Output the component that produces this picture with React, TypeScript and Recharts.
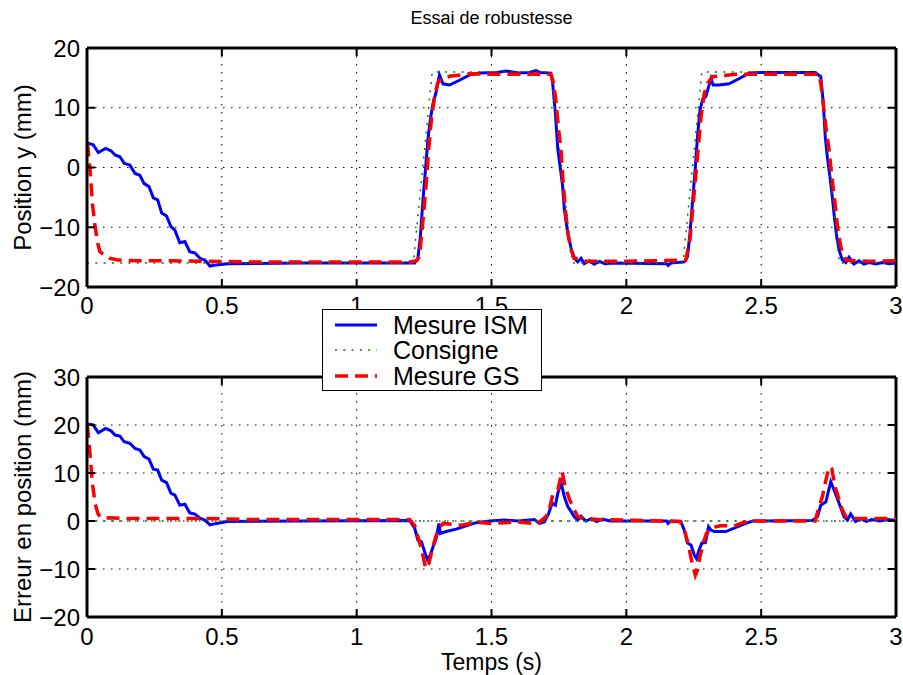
import { LineChart, Line, XAxis, YAxis, CartesianGrid, ReferenceLine, Legend, Label } from 'recharts';

// --- tick values ---
const xTicks = [0, 0.5, 1, 1.5, 2, 2.5, 3];
const posTicks = [-20, -10, 0, 10, 20];
const errTicks = [-20, -10, 0, 10, 20, 30];

// --- position plot (top) ---
const ismPosT = [0, 0.023, 0.042, 0.069, 0.089, 0.104, 0.122, 0.138, 0.159, 0.178, 0.196, 0.212, 0.23, 0.246, 0.262, 0.277, 0.295, 0.311, 0.326, 0.344, 0.363, 0.381, 0.4, 0.419, 0.437, 0.456, 0.48, 0.52, 0.8, 1.1, 1.215, 1.227, 1.236, 1.246, 1.256, 1.264, 1.273, 1.283, 1.295, 1.307, 1.32, 1.344, 1.381, 1.419, 1.456, 1.52, 1.555, 1.6, 1.64, 1.666, 1.68, 1.72, 1.727, 1.737, 1.746, 1.752, 1.764, 1.77, 1.783, 1.795, 1.807, 1.82, 1.832, 1.844, 1.863, 1.881, 1.9, 1.92, 1.95, 2.15, 2.155, 2.165, 2.215, 2.227, 2.236, 2.246, 2.256, 2.264, 2.273, 2.283, 2.295, 2.305, 2.314, 2.322, 2.344, 2.381, 2.419, 2.456, 2.493, 2.7, 2.721, 2.73, 2.738, 2.746, 2.755, 2.764, 2.772, 2.78, 2.789, 2.801, 2.814, 2.826, 2.844, 2.863, 2.881, 2.9, 2.925, 2.95, 2.975, 3.0];
const ismPos = [4.1, 3.8, 2.5, 3.2, 2.8, 2.1, 1.8, 0.7, 0.4, -1.0, -1.3, -2.7, -3.2, -5.1, -5.4, -7.6, -8.1, -9.9, -10.5, -12.6, -12.4, -14.1, -14.3, -15.2, -15.5, -16.5, -16.3, -16.1, -16.0, -16.0, -16.0, -15.2, -11.6, -5.4, 0.1, 4.6, 8.0, 10.7, 12.7, 15.5, 14.0, 13.8, 14.6, 15.5, 15.8, 15.9, 16.15, 15.8, 15.9, 16.2, 15.9, 15.8, 14.0, 9.0, 3.0, 1.0, -3.2, -7.0, -11.0, -13.5, -15.2, -15.8, -15.2, -16.1, -15.6, -16.2, -15.7, -16.1, -16.0, -16.1, -16.4, -16.0, -15.8, -14.9, -11.0, -5.4, 0.1, 5.2, 9.6, 11.4, 11.9, 13.5, 14.9, 13.8, 13.8, 14.0, 14.9, 15.8, 15.9, 15.9, 15.2, 11.0, 5.0, 1.5, -1.5, -5.0, -8.5, -11.5, -13.8, -15.5, -15.9, -15.0, -16.15, -15.6, -16.15, -15.9, -16.15, -15.9, -16.1, -16.0];

const refPosT = [0, 1.21, 1.28, 1.72, 1.8, 2.21, 2.28, 2.715, 2.79, 3];
const refPos = [-16, -16, 16, 16, -16, -16, 16, 16, -16, -16];

const gsPosT = [0, 0.002, 0.011, 0.02, 0.03, 0.04, 0.048, 0.06, 0.085, 0.116, 0.18, 0.3, 0.45, 0.6, 0.9, 1.2, 1.222, 1.233, 1.246, 1.258, 1.268, 1.277, 1.289, 1.3, 1.314, 1.35, 1.42, 1.5, 1.72, 1.728, 1.737, 1.749, 1.758, 1.764, 1.774, 1.783, 1.795, 1.807, 1.832, 1.85, 2.0, 2.22, 2.236, 2.246, 2.256, 2.268, 2.277, 2.289, 2.301, 2.32, 2.344, 2.406, 2.715, 2.721, 2.73, 2.74, 2.752, 2.762, 2.774, 2.783, 2.795, 2.801, 2.814, 2.85, 2.9, 3.0];
const gsPos = [4.0, 3.8, -0.1, -6.0, -9.9, -12.7, -14.1, -14.5, -15.2, -15.5, -15.6, -15.6, -15.7, -15.8, -15.8, -15.8, -15.6, -14.9, -8.8, -2.6, 3.5, 8.0, 11.9, 14.1, 14.9, 15.3, 15.7, 15.6, 15.6, 14.5, 11.9, 6.3, 2.9, -1.5, -7.1, -11.0, -13.8, -15.2, -15.3, -15.7, -15.7, -15.5, -12.1, -7.1, -2.1, 4.0, 8.5, 12.4, 14.1, 15.2, 15.3, 15.6, 15.6, 14.1, 10.7, 6.8, 2.9, -1.5, -6.0, -9.9, -13.2, -14.1, -15.5, -15.6, -15.7, -15.6];

// --- error plot (bottom) ---
const ismErrT = [0, 0.023, 0.042, 0.069, 0.089, 0.104, 0.122, 0.138, 0.159, 0.178, 0.196, 0.212, 0.23, 0.246, 0.262, 0.277, 0.295, 0.311, 0.326, 0.344, 0.363, 0.381, 0.4, 0.419, 0.437, 0.456, 0.48, 0.52, 0.8, 1.196, 1.215, 1.227, 1.24, 1.252, 1.262, 1.273, 1.283, 1.295, 1.305, 1.31, 1.332, 1.369, 1.406, 1.443, 1.493, 1.548, 1.6, 1.659, 1.678, 1.696, 1.712, 1.725, 1.737, 1.746, 1.758, 1.77, 1.783, 1.795, 1.807, 1.82, 1.832, 1.85, 1.87, 1.89, 1.91, 1.94, 2.15, 2.155, 2.165, 2.202, 2.215, 2.227, 2.24, 2.252, 2.26, 2.27, 2.28, 2.293, 2.305, 2.314, 2.326, 2.369, 2.443, 2.468, 2.69, 2.709, 2.721, 2.74, 2.758, 2.77, 2.789, 2.807, 2.82, 2.832, 2.85, 2.87, 2.89, 2.91, 2.94, 2.97, 3.0];
const ismErr = [20.2, 20.0, 18.4, 19.3, 18.8, 17.9, 17.7, 16.5, 16.2, 15.1, 14.8, 13.4, 12.9, 10.8, 10.6, 8.5, 8.0, 5.8, 5.4, 3.3, 3.5, 1.7, 1.45, 0.6, 0.2, -0.8, -0.5, -0.1, 0.0, 0.1, -1.5, -4.0, -4.3, -6.4, -8.0, -7.1, -5.4, -3.6, -0.5, -2.6, -2.2, -1.7, -1.0, -0.35, 0.0, 0.2, 0.0, 0.3, -0.5, -0.2, 1.6, 3.7, 3.3, 5.8, 8.0, 5.1, 3.0, 2.0, 0.9, 0.2, 1.0, 0.0, 0.5, -0.1, 0.4, 0.0, 0.0, -0.5, 0.0, -0.1, -1.9, -4.6, -5.0, -7.1, -7.8, -6.0, -4.6, -4.5, -1.2, -1.9, -2.2, -2.2, -0.5, 0.0, 0.1, 0.9, 3.3, 4.0, 8.2, 6.5, 3.7, 0.9, 0.2, 1.45, -0.1, 0.5, -0.1, 0.3, 0.0, 0.3, 0.1];

const refErrT = [0, 3];
const refErr = [0, 0];

const gsErrT = [0, 0.002, 0.011, 0.02, 0.03, 0.04, 0.048, 0.06, 0.085, 0.15, 0.45, 0.6, 1.196, 1.215, 1.227, 1.24, 1.249, 1.256, 1.268, 1.28, 1.293, 1.305, 1.32, 1.39, 1.44, 1.5, 1.6, 1.67, 1.702, 1.715, 1.727, 1.746, 1.754, 1.762, 1.773, 1.79, 1.805, 1.82, 1.84, 1.9, 2.2, 2.219, 2.23, 2.243, 2.256, 2.264, 2.273, 2.285, 2.297, 2.32, 2.35, 2.4, 2.45, 2.7, 2.715, 2.727, 2.74, 2.752, 2.762, 2.774, 2.789, 2.8, 2.814, 2.85, 3.0];
const gsErr = [20.0, 19.5, 14.1, 7.9, 3.7, 1.6, 0.9, 0.6, 0.7, 0.5, 0.5, 0.3, 0.3, -0.9, -3.3, -5.7, -8.1, -9.9, -8.8, -6.0, -3.3, -1.6, -0.5, -0.9, -0.3, -0.5, -0.2, -0.6, 0.9, 2.6, 5.4, 6.5, 8.5, 10.3, 7.2, 4.4, 2.6, 0.9, 0.5, 0.3, -0.1, -2.6, -5.0, -8.5, -11.3, -10.2, -7.4, -4.6, -2.6, -1.3, -1.0, -1.0, 0.0, 0.0, 3.0, 5.1, 8.5, 11.3, 10.9, 7.2, 4.4, 2.5, 0.9, 0.5, 0.5];

const seriesNames = ['Mesure ISM', 'Consigne', 'Mesure GS'];

const toRows = (t: number[], v: number[]) => t.map((x, i) => ({ t: x, v: v[i] }));

const FONT = '"Liberation Sans", Arial, Helvetica, sans-serif';
const FS = 24;
const PLOT_W = 809;
const BLUE = '#0000ff';
const GREEN = '#008000';
const RED = '#ff0000';

const fmt = (v: number) => (v < 0 ? '\u2212' + Math.abs(v) : String(v));

const makeXTick = (plotH: number, dy: number) => (props: any) => {
  const { x, y, payload } = props;
  return (
    <g>
      <line x1={x} x2={x} y1={y} y2={y - 8} stroke="#000" strokeWidth={2} />
      <line x1={x} x2={x} y1={y - plotH} y2={y - plotH + 8} stroke="#000" strokeWidth={2} />
      <text x={x} y={y + dy} textAnchor="middle" fontSize={FS} fontFamily={FONT} fill="#000">
        {fmt(payload.value)}
      </text>
    </g>
  );
};

const YTick = (props: any) => {
  const { x, y, payload } = props;
  return (
    <g>
      <line x1={x} x2={x + 8} y1={y} y2={y} stroke="#000" strokeWidth={2} />
      <line x1={x + PLOT_W - 8} x2={x + PLOT_W} y1={y} y2={y} stroke="#000" strokeWidth={2} />
      <text x={x - 7} y={y + 8.5} textAnchor="end" fontSize={FS} fontFamily={FONT} fill="#000">
        {fmt(payload.value)}
      </text>
    </g>
  );
};

const LegendBox = () => (
  <svg width={220} height={82} style={{ display: 'block' }}>
    <rect x={0.5} y={0.5} width={219} height={81} fill="#fff" stroke="#000" strokeWidth={1} />
    <line x1={13} x2={55} y1={16} y2={16} stroke={BLUE} strokeWidth={3} />
    <line x1={13} x2={55} y1={41} y2={41} stroke={GREEN} strokeWidth={1.5} strokeDasharray="2 6.3" />
    <line x1={13} x2={55} y1={67} y2={67} stroke={RED} strokeWidth={3.5} strokeDasharray="13 7" />
    {seriesNames.map((n, i) => (
      <text key={n} x={71} y={24.5 + i * 25.5} fontSize={25} fontFamily={FONT} fill="#000">
        {n}
      </text>
    ))}
  </svg>
);

export default function App() {
  const topH = 287 - 48;
  const botH = 617 - 377;
  return (
    <div style={{ position: 'absolute', left: 0, top: 0, width: 903, height: 675, background: '#fff', fontFamily: FONT }}>
      <div style={{ position: 'absolute', left: 0, top: 0 }}>
        <LineChart width={903} height={675} margin={{ top: 377, right: 7, bottom: 6, left: 0 }}>
          <CartesianGrid stroke="#000" strokeDasharray="1.5 6.5" strokeWidth={1} />
          <XAxis
            dataKey="t"
            type="number"
            domain={[0, 3]}
            ticks={xTicks}
            height={52}
            tickSize={0}
            tickMargin={0}
            tickLine={false}
            axisLine={{ stroke: '#000', strokeWidth: 3 }}
            tick={makeXTick(botH, 28)}
            allowDataOverflow
          >
            <Label value="Temps (s)" position="insideBottom" offset={-1} style={{ fontSize: 23, fontFamily: FONT, fill: '#000' }} />
          </XAxis>
          <YAxis
            type="number"
            domain={[-20, 30]}
            ticks={errTicks}
            width={87}
            tickSize={0}
            tickMargin={0}
            tickLine={false}
            axisLine={{ stroke: '#000', strokeWidth: 3 }}
            tick={YTick}
            allowDataOverflow
          >
            <Label value="Erreur en position (mm)" angle={-90} position="center" dx={-21} style={{ fontSize: FS, fontFamily: FONT, fill: '#000', textAnchor: 'middle' }} />
          </YAxis>
          <ReferenceLine y={30} stroke="#000" strokeWidth={3} />
          <ReferenceLine x={3} stroke="#000" strokeWidth={3} />
          <Line data={toRows(ismErrT, ismErr)} dataKey="v" type="linear" stroke={BLUE} strokeWidth={3} dot={false} isAnimationActive={false} />
          <Line data={toRows(refErrT, refErr)} dataKey="v" type="linear" stroke={GREEN} strokeWidth={1.5} strokeDasharray="2 6.3" dot={false} isAnimationActive={false} />
          <Line data={toRows(gsErrT, gsErr)} dataKey="v" type="linear" stroke={RED} strokeWidth={3.5} strokeDasharray="13 7" dot={false} isAnimationActive={false} />
        </LineChart>
      </div>
      <div style={{ position: 'absolute', left: 0, top: 0 }}>
        <LineChart width={903} height={400} margin={{ top: 48, right: 7, bottom: 83, left: 0 }}>
          <CartesianGrid stroke="#000" strokeDasharray="1.5 6.5" strokeWidth={1} />
          <XAxis
            dataKey="t"
            type="number"
            domain={[0, 3]}
            ticks={xTicks}
            height={30}
            tickSize={0}
            tickMargin={0}
            tickLine={false}
            axisLine={{ stroke: '#000', strokeWidth: 3 }}
            tick={makeXTick(topH, 27)}
            allowDataOverflow
          />
          <YAxis
            type="number"
            domain={[-20, 20]}
            ticks={posTicks}
            width={87}
            tickSize={0}
            tickMargin={0}
            tickLine={false}
            axisLine={{ stroke: '#000', strokeWidth: 3 }}
            tick={YTick}
            allowDataOverflow
          >
            <Label value="Position y (mm)" angle={-90} position="center" dx={-21} style={{ fontSize: FS, fontFamily: FONT, fill: '#000', textAnchor: 'middle' }} />
          </YAxis>
          <ReferenceLine y={20} stroke="#000" strokeWidth={3}>
            <Label value="Essai de robustesse" position="top" offset={24} style={{ fontSize: 18, fontFamily: FONT, fill: '#000' }} />
          </ReferenceLine>
          <ReferenceLine x={3} stroke="#000" strokeWidth={3} />
          <Line data={toRows(ismPosT, ismPos)} dataKey="v" name={seriesNames[0]} type="linear" stroke={BLUE} strokeWidth={3} dot={false} isAnimationActive={false} />
          <Line data={toRows(refPosT, refPos)} dataKey="v" name={seriesNames[1]} type="linear" stroke={GREEN} strokeWidth={1.5} strokeDasharray="2 6.3" dot={false} isAnimationActive={false} />
          <Line data={toRows(gsPosT, gsPos)} dataKey="v" name={seriesNames[2]} type="linear" stroke={RED} strokeWidth={3.5} strokeDasharray="13 7" dot={false} isAnimationActive={false} />
          <Legend
            layout="horizontal"
            verticalAlign="middle"
            align="center"
            wrapperStyle={{ position: 'absolute', left: 322, top: 309, width: 220, height: 82 }}
            content={() => <LegendBox />}
          />
        </LineChart>
      </div>
    </div>
  );
}
